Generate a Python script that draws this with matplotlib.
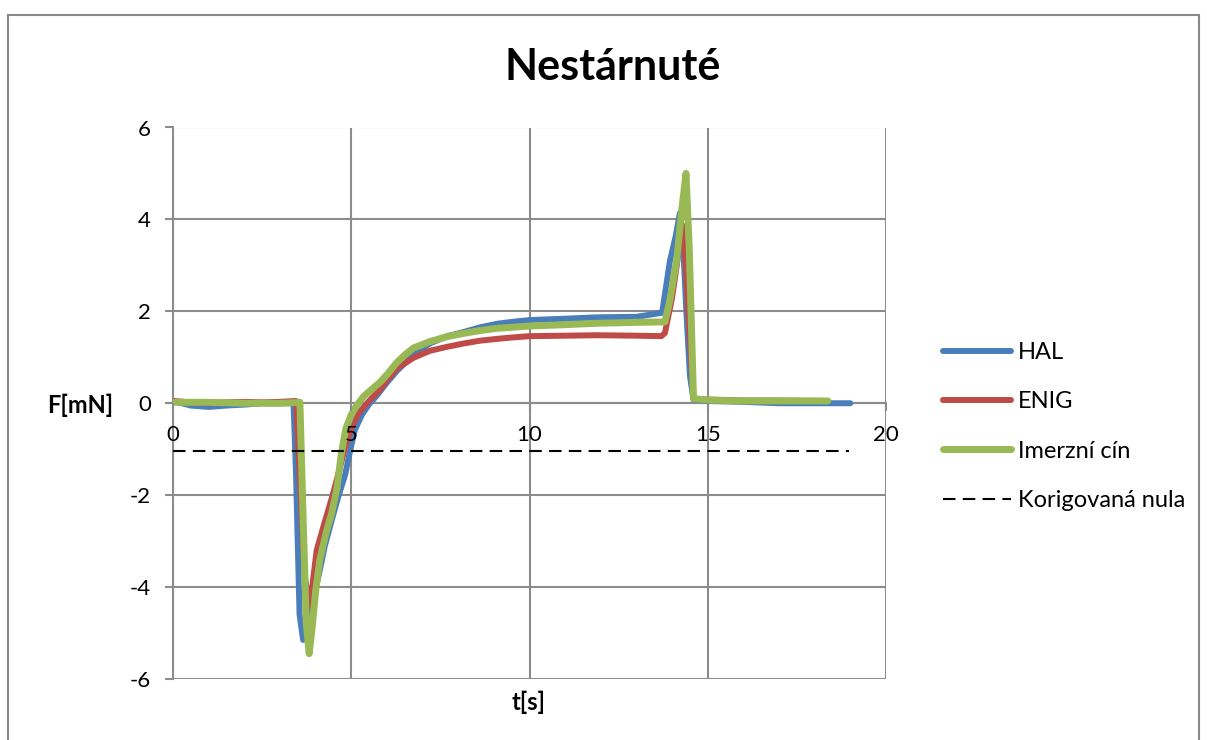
import matplotlib.pyplot as plt
import matplotlib.patches as patches

plt.rcParams['font.family'] = ['Lato', 'DejaVu Sans']
plt.rcParams['axes.unicode_minus'] = False

# HAL
t_hal = [0, 0.5, 1, 1.5, 2, 2.5, 3, 3.38, 3.45, 3.55, 3.65, 3.75, 3.85, 3.95, 4.1, 4.26, 4.45, 4.63, 4.83, 4.95,
         5.1, 5.3, 5.5, 5.7, 6.0, 6.3, 6.75, 7.2, 7.7, 8.15, 8.6, 9.1, 9.5, 10, 11, 11.9, 13, 13.72, 13.94, 14.1,
         14.22, 14.3, 14.4, 14.5, 14.6, 15, 16, 17, 18, 19.0]
f_hal = [0.05, -0.05, -0.08, -0.05, -0.03, 0.0, 0.0, 0.0, -1.5, -4.6, -5.15, -5.0, -4.6, -4.2, -3.7, -3.1, -2.55,
         -2.05, -1.55, -1.1, -0.58, -0.25, -0.02, 0.15, 0.45, 0.72, 1.05, 1.3, 1.46, 1.55, 1.65, 1.73, 1.77, 1.81,
         1.84, 1.87, 1.88, 1.97, 3.1, 3.63, 4.14, 3.6, 2.0, 0.6, 0.08, 0.05, 0.03, 0.0, 0.0, 0.0]

# ENIG
t_enig = [0, 0.5, 1, 1.5, 2, 2.5, 3, 3.45, 3.55, 3.7, 3.84, 3.92, 4.03, 4.25, 4.46, 4.65, 4.83, 5.0, 5.2, 5.5, 5.8,
          6.0, 6.3, 6.75, 7.2, 7.7, 8.15, 8.6, 9.08, 9.5, 10, 11, 11.9, 13, 13.7, 13.8, 14.0, 14.15, 14.27, 14.35,
          14.45, 14.6, 15, 16, 17, 18, 18.2]
f_enig = [0.05, 0.02, 0.0, 0.02, 0.03, 0.02, 0.03, 0.05, -1.5, -3.8, -4.44, -3.9, -3.2, -2.6, -2.05, -1.5, -0.95,
          -0.55, -0.22, 0.05, 0.29, 0.5, 0.77, 0.99, 1.14, 1.23, 1.3, 1.36, 1.4, 1.43, 1.46, 1.47, 1.48, 1.47, 1.46,
          1.53, 2.3, 3.1, 3.9, 3.5, 2.0, 0.1, 0.08, 0.06, 0.06, 0.05, 0.05]

# Imerzni cin
t_cin = [0, 1, 2, 3, 3.56, 3.65, 3.74, 3.82, 3.9, 4.0, 4.12, 4.3, 4.45, 4.6, 4.72, 4.85, 5.0, 5.15, 5.35, 5.6, 5.8,
         6.0, 6.27, 6.5, 6.74, 7.2, 7.68, 8.15, 8.6, 9.08, 10, 11, 11.9, 13, 13.8, 13.94, 14.13, 14.27, 14.39,
         14.48, 14.6, 15, 16, 17, 18, 18.37]
f_cin = [0.02, 0.02, 0.0, 0.0, 0.02, -2.5, -4.8, -5.45, -4.9, -4.1, -3.4, -2.8, -2.4, -1.85, -1.1, -0.55, -0.25,
         -0.05, 0.15, 0.32, 0.45, 0.62, 0.88, 1.05, 1.2, 1.34, 1.45, 1.52, 1.58, 1.63, 1.68, 1.71, 1.74, 1.76,
         1.77, 2.25, 3.12, 4.2, 5.0, 3.4, 0.1, 0.07, 0.05, 0.05, 0.05, 0.05]

# korigovana nula
t_nula = [0, 18.95]
f_nula = [-1.03, -1.03]

x_ticks = [0, 5, 10, 15, 20]
y_ticks = [-6, -4, -2, 0, 2, 4, 6]

W, H = 1207, 740
fig = plt.figure(figsize=(W / 100, H / 100), dpi=100)
ax = fig.add_axes([173 / W, 1 - 679 / H, (886 - 173) / W, (679 - 127.5) / H])

# grid drawn under the data, tick labels stay on top (like Excel)
for xv in x_ticks:
    ax.axvline(xv, color='#8c8c8c', lw=1.5, zorder=0.5)
for yv in y_ticks:
    ax.axhline(yv, color='#8c8c8c', lw=1.5, zorder=0.5)

ax.plot(t_hal, f_hal, color='#4A7EBB', lw=4.3, label='HAL', solid_capstyle='round', solid_joinstyle='round')
ax.plot(t_enig, f_enig, color='#BE4B48', lw=4.3, label='ENIG', solid_capstyle='round', solid_joinstyle='round')
ax.plot(t_cin, f_cin, color='#98B954', lw=5.0, label='Imerzní cín', solid_capstyle='round',
        solid_joinstyle='round')
ax.plot(t_nula, f_nula, color='black', lw=1.5, dashes=(6, 3.5), label='Korigovaná nula')

ax.set_xlim(0, 20)
ax.set_ylim(-6, 6)
ax.set_xticks(x_ticks)
ax.set_yticks(y_ticks)
ax.set_axisbelow(False)
for s in ['top', 'right']:
    ax.spines[s].set_visible(False)
ax.spines['bottom'].set_position(('data', 0))
for s in ['bottom', 'left']:
    ax.spines[s].set_color('#8c8c8c')
    ax.spines[s].set_linewidth(1.5)
    ax.spines[s].set_zorder(0.6)
ax.tick_params(axis='both', direction='out', length=6, width=1.5, color='#8c8c8c',
               labelsize=16, pad=10)

fig.text(80 / W, 1 - 405 / H, 'F[mN]', ha='center', va='center', fontsize=17, fontweight='bold')
fig.text(529 / W, 1 - 702 / H, 't[s]', ha='center', va='center', fontsize=17, fontweight='bold')
fig.text(613 / W, 1 - 67 / H, 'Nestárnuté', ha='center', va='center', fontsize=31, fontweight='bold')

fig.legend(loc='center left', bbox_to_anchor=(922 / W, 1 - 426.5 / H), frameon=False, fontsize=17,
           handlelength=2.85, handletextpad=0.3, labelspacing=1.2)

fig.patches.append(patches.Rectangle((8 / W, -0.1), (1199 - 8) / W, 1.1 - 15 / H, transform=fig.transFigure,
                                     fill=False, edgecolor='#898989', lw=1.5))

fig.savefig('out.png', dpi=100)
